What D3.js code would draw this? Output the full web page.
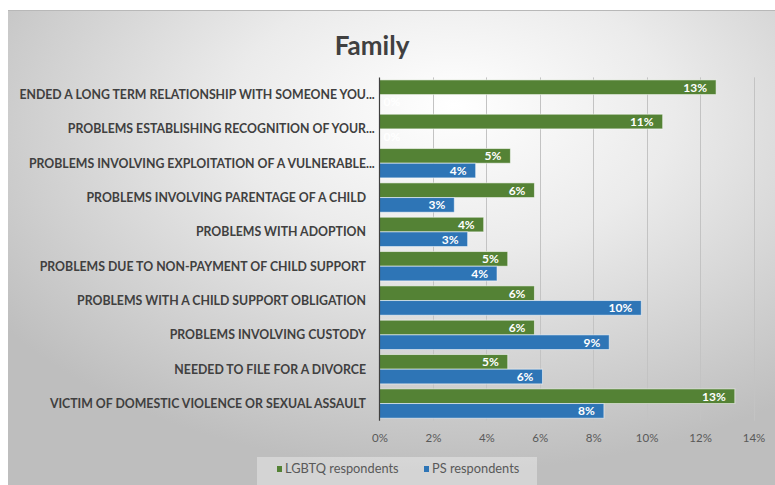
<!DOCTYPE html>
<html>
<head>
<meta charset="utf-8">
<script src="https://cdn.jsdelivr.net/npm/d3@7"></script>
<style>
  html, body { margin: 0; padding: 0; background: #ffffff; }
  svg { display: block; }
  text { font-family: Lato, "Open Sans", sans-serif; }
</style>
</head>
<body>
<svg id="chart" width="775" height="485"></svg>
<script>
// Categories, top to bottom
const categories = [
  "ENDED A LONG TERM RELATIONSHIP WITH SOMEONE YOU",
  "PROBLEMS ESTABLISHING RECOGNITION OF YOUR",
  "PROBLEMS INVOLVING EXPLOITATION OF A VULNERABLE",
  "PROBLEMS INVOLVING PARENTAGE OF A CHILD",
  "PROBLEMS WITH ADOPTION",
  "PROBLEMS DUE TO NON-PAYMENT OF CHILD SUPPORT",
  "PROBLEMS WITH A CHILD SUPPORT OBLIGATION",
  "PROBLEMS INVOLVING CUSTODY",
  "NEEDED TO FILE FOR A DIVORCE",
  "VICTIM OF DOMESTIC VIOLENCE OR SEXUAL ASSAULT"
];
// Labels that are cut off with an ellipsis
const truncated = [true, true, true, false, false, false, false, false, false, false];

const seriesNames = ["LGBTQ respondents", "PS respondents"];
const lgbtqValues = [0.126, 0.106, 0.049, 0.058, 0.039, 0.048, 0.058, 0.058, 0.048, 0.133];
const psValues    = [0.000, 0.000, 0.036, 0.028, 0.033, 0.044, 0.098, 0.086, 0.061, 0.084];
const xTicks = [0, 0.02, 0.04, 0.06, 0.08, 0.10, 0.12, 0.14];
const seriesColors = ["#548235", "#2e75b6"];

const svg = d3.select("#chart");
const W = 775, H = 485;

// Background panel with soft radial shading
const defs = svg.append("defs");
const grad = defs.append("radialGradient")
  .attr("id", "bg").attr("cx", "58%").attr("cy", "25%").attr("r", "72%")
  .attr("fx", "58%").attr("fy", "20%");
grad.append("stop").attr("offset", "0%").attr("stop-color", "#ffffff");
grad.append("stop").attr("offset", "40%").attr("stop-color", "#ebebeb");
grad.append("stop").attr("offset", "100%").attr("stop-color", "#bebebe");

svg.append("rect").attr("x", 8).attr("y", 10).attr("width", W - 8).attr("height", H - 10)
  .attr("fill", "url(#bg)");
svg.append("line").attr("x1", 8).attr("x2", W).attr("y1", 10.5).attr("y2", 10.5)
  .attr("stroke", "#b8b8b8").attr("stroke-width", 1);

// Title
svg.append("text")
  .attr("x", 372).attr("y", 55)
  .attr("text-anchor", "middle")
  .attr("font-size", 26).attr("font-weight", 700)
  .attr("fill", "#404040")
  .text("Family");

// Scales
const x = d3.scaleLinear().domain([0, 0.14]).range([379.5, 753.5]);
const y = d3.scaleBand().domain(categories).range([77.4, 420.7]).padding(0);
const ySub = d3.scaleBand().domain(seriesNames).range([0, y.bandwidth()])
  .paddingInner(0).paddingOuter(0.17);

const plotTop = y.range()[0], plotBottom = y.range()[1];

// Vertical gridlines
svg.append("g").selectAll("line")
  .data(xTicks.slice(1))
  .join("line")
  .attr("x1", d => Math.round(x(d)) + 0.5).attr("x2", d => Math.round(x(d)) + 0.5)
  .attr("y1", plotTop).attr("y2", plotBottom)
  .attr("stroke", "#c3c3c3").attr("stroke-width", 1);

// Value axis tick labels
const xAxis = d3.axisBottom(x).tickValues(xTicks).tickFormat(d3.format(".0%")).tickSize(0).tickPadding(0);
const gx = svg.append("g").attr("transform", `translate(0,${plotBottom + 13})`).call(xAxis);
gx.select(".domain").remove();
gx.selectAll("text").attr("font-size", 11.5).attr("fill", "#595959")
  .attr("font-family", "Lato, 'Open Sans', sans-serif");

// Rows of data for grouped bars
const rows = categories.map((c, i) => ({
  category: c,
  bars: [
    { series: seriesNames[0], value: lgbtqValues[i], color: seriesColors[0] },
    { series: seriesNames[1], value: psValues[i], color: seriesColors[1] }
  ]
}));

const groups = svg.append("g").selectAll("g")
  .data(rows).join("g")
  .attr("transform", d => `translate(0,${y(d.category)})`);

groups.selectAll("rect")
  .data(d => d.bars)
  .join("rect")
  .attr("x", x(0))
  .attr("y", d => ySub(d.series))
  .attr("width", d => x(d.value) - x(0))
  .attr("height", ySub.bandwidth())
  .attr("fill", d => d.color)
  .attr("stroke", d => d.value > 0 ? "rgba(255,255,255,0.55)" : "none")
  .attr("stroke-width", 1);

// Value labels inside the bar ends
const fmt = d3.format(".0%");
groups.selectAll("text.val")
  .data(d => d.bars)
  .join("text")
  .attr("class", "val")
  .attr("x", d => d.value > 0 ? x(d.value) - 9 : x(0) + 4)
  .attr("y", d => ySub(d.series) + ySub.bandwidth() / 2)
  .attr("dy", "0.36em")
  .attr("text-anchor", d => d.value > 0 ? "end" : "start")
  .attr("font-size", 12).attr("font-weight", 700)
  .attr("fill", "#ffffff")
  .text(d => fmt(d.value));

// Category axis line
svg.append("line")
  .attr("x1", x(0)).attr("x2", x(0))
  .attr("y1", plotTop).attr("y2", plotBottom)
  .attr("stroke", "#404040").attr("stroke-width", 1.2);

// Category labels
const labelX = 366;
const cats = svg.append("g").selectAll("g")
  .data(categories).join("g")
  .attr("transform", d => `translate(0,${y(d) + y.bandwidth() / 2})`);
cats.append("text")
  .attr("x", labelX)
  .attr("dy", "0.35em")
  .attr("text-anchor", "end")
  .attr("font-size", 12.3).attr("font-weight", 700)
  .attr("fill", "#404040")
  .text(d => d);
cats.filter((d, i) => truncated[i]).append("text")
  .attr("x", labelX)
  .attr("dy", "0.35em")
  .attr("font-size", 12.3).attr("font-weight", 700)
  .attr("fill", "#404040")
  .text("...");

// Legend
const legend = svg.append("g");
legend.append("rect").attr("x", 257).attr("y", 457).attr("width", 280).attr("height", 28)
  .attr("fill", "rgba(255,255,255,0.35)");
const legendItems = [
  { name: seriesNames[0], color: seriesColors[0], x: 277 },
  { name: seriesNames[1], color: seriesColors[1], x: 424 }
];
const li = legend.selectAll("g.item").data(legendItems).join("g")
  .attr("class", "item")
  .attr("transform", d => `translate(${d.x},469)`);
li.append("rect").attr("x", 0).attr("y", -3).attr("width", 5).attr("height", 6)
  .attr("fill", d => d.color);
li.append("text").attr("x", 8).attr("dy", "0.35em")
  .attr("font-size", 12.8).attr("fill", "#595959")
  .text(d => d.name);
</script>
</body>
</html>
